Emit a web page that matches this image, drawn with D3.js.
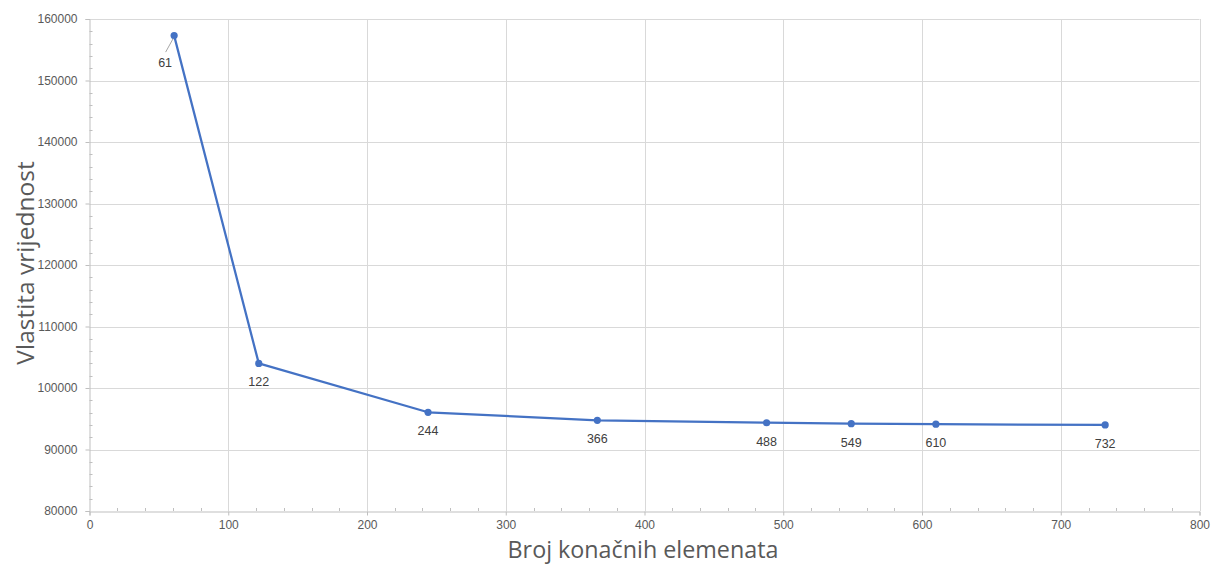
<!DOCTYPE html>
<html><head><meta charset="utf-8">
<script src="https://cdn.jsdelivr.net/npm/d3@7"></script>
<style>
html,body{margin:0;padding:0;background:#fff;}
svg{display:block;}
</style></head>
<body>
<svg id="chart" width="1212" height="564"></svg>
<script>
const elements = [61, 122, 244, 366, 488, 549, 610, 732];
const eigenvalues = [157300, 104000, 96050, 94750, 94350, 94200, 94120, 94000];
const xTicks = [0, 100, 200, 300, 400, 500, 600, 700, 800];
const yTicks = [80000, 90000, 100000, 110000, 120000, 130000, 140000, 150000, 160000];
const xTitle = "Broj konačnih elemenata";
const yTitle = "Vlastita vrijednost";

const svg = d3.select("#chart");
const L = 89.5, R = 1199.5, T = 19, B = 511;
const x = d3.scaleLinear().domain([0, 800]).range([L, R]);
const y = d3.scaleLinear().domain([80000, 160000]).range([B, T]);

const gridColor = "#d9d9d9", axisColor = "#bfbfbf", textColor = "#595959";

// gridlines
svg.append("g").selectAll("line").data(yTicks.slice(1)).join("line")
  .attr("x1", L).attr("x2", R).attr("y1", d => Math.round(y(d)) + 0.5).attr("y2", d => Math.round(y(d)) + 0.5)
  .attr("stroke", gridColor).attr("stroke-width", 1);
svg.append("g").selectAll("line").data(xTicks.slice(1)).join("line")
  .attr("y1", T).attr("y2", B).attr("x1", d => Math.round(x(d)) + 0.5).attr("x2", d => Math.round(x(d)) + 0.5)
  .attr("stroke", gridColor).attr("stroke-width", 1);

// axes
const xAxis = d3.axisBottom(x).tickValues(xTicks).tickSize(4).tickPadding(5).tickFormat(d3.format("d"));
const gx = svg.append("g").attr("transform", `translate(0,${B + 0.5})`).call(xAxis);
const yAxis = d3.axisLeft(y).tickValues(yTicks).tickSize(4).tickPadding(8).tickFormat(d3.format("d"));
const gy = svg.append("g").attr("transform", `translate(${L},0)`).call(yAxis);
[gx, gy].forEach(g => {
  g.select(".domain").attr("stroke", axisColor);
  g.selectAll(".tick line").attr("stroke", axisColor);
  g.selectAll(".tick text").attr("fill", textColor).style("font-family", "'Liberation Sans', Arial, sans-serif").style("font-size", "12px");
});

// minor ticks (inside)
const xMinor = d3.range(0, 801, 20).filter(v => v % 100 !== 0);
svg.append("g").selectAll("line").data(xMinor).join("line")
  .attr("x1", d => Math.round(x(d)) + 0.5).attr("x2", d => Math.round(x(d)) + 0.5)
  .attr("y1", B - 3).attr("y2", B).attr("stroke", axisColor);
const yMinor = d3.range(80000, 160001, 2000).filter(v => v % 10000 !== 0);
svg.append("g").selectAll("line").data(yMinor).join("line")
  .attr("y1", d => Math.round(y(d)) + 0.5).attr("y2", d => Math.round(y(d)) + 0.5)
  .attr("x1", L).attr("x2", L + 3).attr("stroke", axisColor);

// line
const pts = elements.map((e, i) => [e, eigenvalues[i]]);
const lineColor = "#4472c4";
svg.append("path").datum(pts)
  .attr("d", d3.line().x(d => x(d[0])).y(d => y(d[1])))
  .attr("fill", "none").attr("stroke", lineColor).attr("stroke-width", 2.25).attr("stroke-linejoin", "round");
svg.append("g").selectAll("circle").data(pts).join("circle")
  .attr("cx", d => x(d[0])).attr("cy", d => y(d[1])).attr("r", 3.6).attr("fill", lineColor);

// data labels
const lbl = svg.append("g").style("font-family", "'Liberation Sans', Arial, sans-serif").style("font-size", "12.5px").attr("fill", "#404040");
pts.forEach((d, i) => {
  const px = x(d[0]), py = y(d[1]);
  if (i === 0) {
    svg.append("line").attr("x1", px - 1).attr("y1", py + 3).attr("x2", px - 8.5).attr("y2", py + 16.5)
      .attr("stroke", "#a6a6a6").attr("stroke-width", 1);
    lbl.append("text").attr("x", px - 9).attr("y", py + 31).attr("text-anchor", "middle").text(d[0]);
  } else {
    lbl.append("text").attr("x", px).attr("y", py + 23).attr("text-anchor", "middle").text(d[0]);
  }
});

// titles
svg.append("text").attr("x", 643).attr("y", 558).attr("text-anchor", "middle")
  .attr("fill", textColor).style("font-family", "'Open Sans', sans-serif").style("font-size", "23.3px").text(xTitle);
svg.append("text").attr("transform", `translate(34,263) rotate(-90)`).attr("text-anchor", "middle")
  .attr("fill", textColor).style("font-family", "'Open Sans', sans-serif").style("font-size", "24.5px").text(yTitle);
</script>
</body></html>
